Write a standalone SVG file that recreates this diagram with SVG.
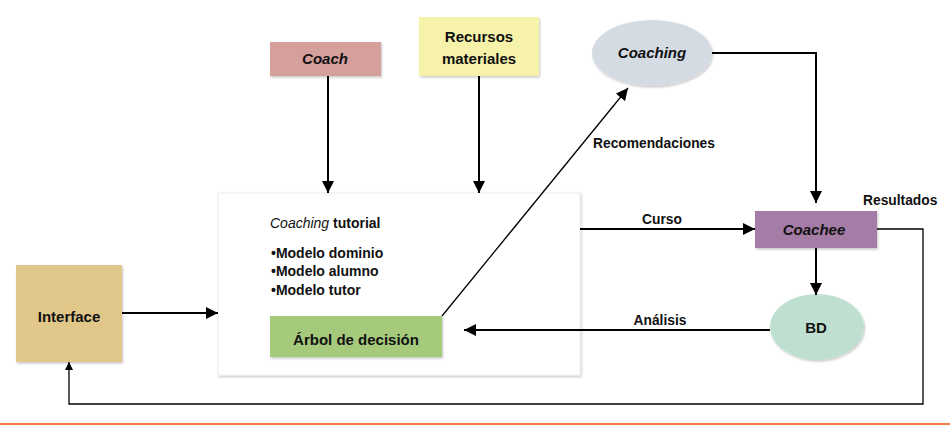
<svg xmlns="http://www.w3.org/2000/svg" width="950" height="432" viewBox="0 0 950 432">
<defs>
<style>
text{font-family:"Liberation Sans",Arial,sans-serif;font-weight:bold;fill:#111;}
.n{font-size:15px;text-anchor:middle;}
.i{font-style:italic;}
.lbl{font-size:13.8px;}
.b{font-size:14px;}
.c{fill:none;stroke:#000;stroke-width:2;}
.t{fill:none;stroke:#000;stroke-width:1.3;}
</style>
<filter id="sh" x="-10%" y="-10%" width="130%" height="140%">
<feDropShadow dx="1" dy="1.5" stdDeviation="1.2" flood-color="#000" flood-opacity="0.22"/>
</filter>
<marker id="ah" viewBox="0 0 10 10" refX="10" refY="5" markerWidth="12" markerHeight="12" markerUnits="userSpaceOnUse" orient="auto">
<path d="M0,0 L10,5 L0,10 Z" fill="#000"/>
</marker>
<marker id="ahs" viewBox="0 0 10 10" refX="10" refY="5" markerWidth="8" markerHeight="8" markerUnits="userSpaceOnUse" orient="auto">
<path d="M0,0 L10,5 L0,10 Z" fill="#000"/>
</marker>
</defs>
<rect width="950" height="432" fill="#fff"/>

<g id="tutorial">
<rect x="218" y="193" width="362" height="182" fill="#fff" stroke="#eee" stroke-width="1" filter="url(#sh)"/>
<text x="270" y="228" class="b"><tspan class="i" font-weight="normal">Coaching</tspan> tutorial</text>
<text x="271" y="258" class="b">•Modelo dominio</text>
<text x="271" y="276" class="b">•Modelo alumno</text>
<text x="271" y="295" class="b">•Modelo tutor</text>
</g>

<g id="arbol">
<rect x="270" y="316" width="172" height="41" fill="#a6ca7b" filter="url(#sh)"/>
<text x="356" y="345" class="n" font-size="17">Árbol de decisión</text>
</g>

<g id="interface">
<rect x="16" y="265" width="106" height="97" fill="#e2c78b" filter="url(#sh)"/>
<text x="69" y="322" class="n">Interface</text>
</g>

<g id="coach">
<rect x="270" y="42" width="111" height="34" fill="#d59f9c" filter="url(#sh)"/>
<text x="325" y="64" class="n i">Coach</text>
</g>

<g id="recursos">
<rect x="419" y="17" width="120" height="59" fill="#f7f2aa" filter="url(#sh)"/>
<text x="479" y="42" class="n" font-size="15.5">Recursos</text>
<text x="479" y="64" class="n" font-size="15.5">materiales</text>
</g>

<g id="coaching">
<ellipse cx="652" cy="53" rx="60" ry="33" fill="#d4dbe3" filter="url(#sh)"/>
<text x="652" y="58" class="n i">Coaching</text>
</g>

<g id="coachee">
<rect x="755" y="211" width="122" height="37" fill="#a57ca6" filter="url(#sh)"/>
<text x="814" y="235" class="n i">Coachee</text>
</g>

<g id="bd">
<ellipse cx="817" cy="327" rx="47" ry="33" fill="#bfdfd0" filter="url(#sh)"/>
<text x="816" y="333" class="n" font-size="16">BD</text>
</g>

<g id="connectors">
<line x1="122" y1="313" x2="218" y2="313" class="c" marker-end="url(#ah)"/>
<line x1="328" y1="76" x2="328" y2="193" class="c" marker-end="url(#ah)"/>
<line x1="479" y1="76" x2="479" y2="193" class="c" marker-end="url(#ah)"/>
<line x1="442" y1="316" x2="628" y2="88" class="t" marker-end="url(#ah)"/>
<polyline points="712,53 816,53 816,203" class="c" marker-end="url(#ah)"/>
<line x1="580" y1="229" x2="755" y2="229" class="c" marker-end="url(#ah)"/>
<line x1="816" y1="248" x2="816" y2="295" class="c" marker-end="url(#ah)"/>
<line x1="770" y1="330" x2="464" y2="330" class="c" marker-end="url(#ah)"/>
<polyline points="877,229 923,229 923,404 69,404 69,362" class="t" marker-end="url(#ahs)"/>
<text x="593" y="148" class="lbl">Recomendaciones</text>
<text x="662" y="224" class="lbl" text-anchor="middle">Curso</text>
<text x="863" y="205" class="lbl">Resultados</text>
<text x="660" y="325" class="lbl" text-anchor="middle">Análisis</text>
</g>

<line x1="0" y1="424" x2="950" y2="424" stroke="#f5520b" stroke-width="1.5"/>
</svg>
